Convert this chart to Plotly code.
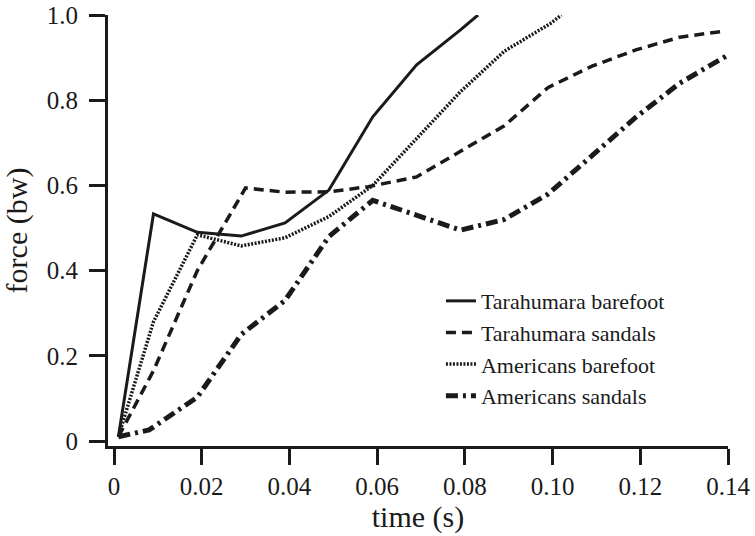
import plotly.graph_objects as go

# time (s) and force (bw), one set per group
tara_bare_t = [0.001, 0.009, 0.019, 0.029, 0.039, 0.049, 0.059, 0.069, 0.079, 0.083]
tara_bare_f = [0.01, 0.533, 0.49, 0.481, 0.512, 0.589, 0.761, 0.883, 0.965, 1.0]

tara_sand_t = [0.001, 0.009, 0.019, 0.030, 0.039, 0.049, 0.058, 0.069, 0.079, 0.089,
               0.099, 0.109, 0.119, 0.129, 0.139]
tara_sand_f = [0.01, 0.165, 0.40, 0.594, 0.584, 0.585, 0.597, 0.62, 0.68, 0.74,
               0.83, 0.88, 0.918, 0.948, 0.962]

amer_bare_t = [0.001, 0.009, 0.019, 0.029, 0.039, 0.049, 0.059, 0.069, 0.079, 0.089,
               0.0995, 0.102]
amer_bare_f = [0.01, 0.28, 0.484, 0.458, 0.477, 0.527, 0.60, 0.71, 0.82, 0.915,
               0.98, 1.0]

amer_sand_t = [0.001, 0.008, 0.019, 0.029, 0.039, 0.049, 0.059, 0.069, 0.079, 0.089,
               0.099, 0.109, 0.119, 0.129, 0.14]
amer_sand_f = [0.01, 0.026, 0.103, 0.25, 0.33, 0.48, 0.565, 0.53, 0.495, 0.52,
               0.58, 0.67, 0.76, 0.84, 0.906]

x_ticks = [0, 0.02, 0.04, 0.06, 0.08, 0.10, 0.12, 0.14]
x_labels = ["0", "0.02", "0.04", "0.06", "0.08", "0.10", "0.12", "0.14"]
y_ticks = [0, 0.2, 0.4, 0.6, 0.8, 1.0]
y_labels = ["0", "0.2", "0.4", "0.6", "0.8", "1.0"]

INK = '#1a1a1a'
FONT = "Liberation Serif, Times New Roman, serif"

series = [
    ("Tarahumara barefoot", tara_bare_t, tara_bare_f, 3, 'solid'),
    ("Tarahumara sandals", tara_sand_t, tara_sand_f, 3.5, '10px,6px'),
    ("Americans barefoot", amer_bare_t, amer_bare_f, 3.5, '2px,1.5px'),
    ("Americans sandals", amer_sand_t, amer_sand_f, 5, '12px,5px,3px,5px'),
]

fig = go.Figure()
for name, t, f, w, dash in series:
    fig.add_trace(go.Scatter(
        x=t, y=f, name=name, mode='lines',
        line=dict(color=INK, width=w, dash=dash)
    ))

axis_common = dict(
    showline=True, linecolor=INK, linewidth=3,
    ticks='outside', ticklen=16, tickwidth=3, tickcolor=INK,
    showgrid=False, zeroline=False, automargin=False,
    ticklabeloverflow='allow',
    tickfont=dict(family=FONT, size=25, color=INK),
)

fig.update_layout(
    width=755, height=536,
    margin=dict(l=108, r=27, t=15, b=90),
    plot_bgcolor='white', paper_bgcolor='white',
    font=dict(family=FONT, size=25, color=INK),
    xaxis=dict(range=[-0.00137, 0.14], tickvals=x_ticks, ticktext=x_labels,
               ticklabelstandoff=0,
               title=dict(text="time (s)", standoff=2), **axis_common),
    yaxis=dict(range=[-0.0117, 1.0], tickvals=y_ticks, ticktext=y_labels,
               ticklabelstandoff=6,
               title=dict(text="force (bw)", standoff=20), **axis_common),
    legend=dict(x=0.537, y=0.385, xanchor='left', yanchor='top',
                bgcolor='rgba(0,0,0,0)', font=dict(family=FONT, size=22),
                tracegroupgap=0),
    showlegend=True,
)

# drop the default page margin so the figure sits at the window's corner
fig.write_html("out.html", config={'displayModeBar': False},
               post_script="document.body.style.margin='0';")
